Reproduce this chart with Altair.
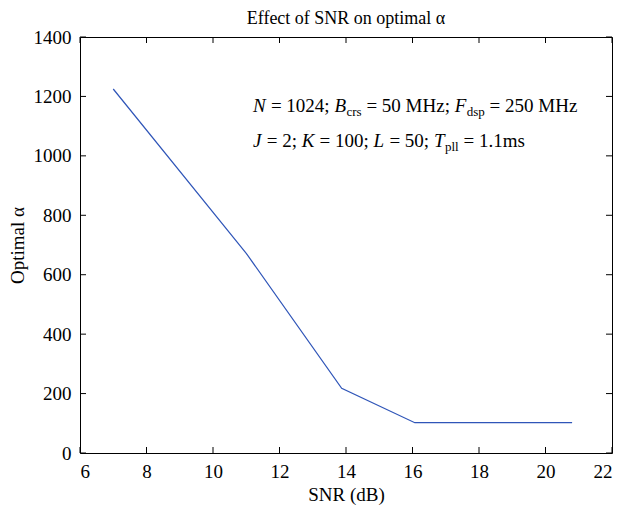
import altair as alt
import pandas as pd

# data
snr = [7.0, 11.0, 13.87, 16.07, 20.8]
alpha = [1225, 672, 218, 102, 102]
x_ticks = [6, 8, 10, 12, 14, 16, 18, 20, 22]
y_ticks = [0, 200, 400, 600, 800, 1000, 1200, 1400]

W, H = 532, 416
FONT = "Liberation Serif"
BLUE = "#2f55b8"

df = pd.DataFrame({"snr": snr, "alpha": alpha})
xt = pd.DataFrame({"v": x_ticks})
yt = pd.DataFrame({"v": y_ticks})

xscale = alt.Scale(domain=[6, 22], nice=False, zero=False)
yscale = alt.Scale(domain=[0, 1400], nice=False)

line = alt.Chart(df).mark_line(color=BLUE, strokeWidth=1.2).encode(
    x=alt.X("snr:Q", scale=xscale,
            axis=alt.Axis(values=x_ticks, format="d", title="SNR (dB)", ticks=False, domain=False,
                          grid=False, labelPadding=9, titlePadding=4,
                          labelFontSize=19, titleFontSize=19, labelFont=FONT, titleFont=FONT,
                          labelColor="black", titleColor="black", titleFontWeight="normal")),
    y=alt.Y("alpha:Q", scale=yscale,
            axis=alt.Axis(values=y_ticks, format="d", title="Optimal α", ticks=False, domain=False,
                          grid=False, labelPadding=9, titlePadding=6,
                          labelFontSize=19, titleFontSize=19, labelFont=FONT, titleFont=FONT,
                          labelColor="black", titleColor="black", titleFontWeight="normal")),
)

TL = 6
bottom_ticks = alt.Chart(xt).mark_rule(color="black", strokeWidth=1).encode(
    x=alt.X("v:Q", scale=xscale), y=alt.value(H), y2=alt.value(H - TL))
top_ticks = alt.Chart(xt).mark_rule(color="black", strokeWidth=1).encode(
    x=alt.X("v:Q", scale=xscale), y=alt.value(0), y2=alt.value(TL))
left_ticks = alt.Chart(yt).mark_rule(color="black", strokeWidth=1).encode(
    y=alt.Y("v:Q", scale=yscale), x=alt.value(0), x2=alt.value(TL))
right_ticks = alt.Chart(yt).mark_rule(color="black", strokeWidth=1).encode(
    y=alt.Y("v:Q", scale=yscale), x=alt.value(W), x2=alt.value(W - TL))

# annotation text runs: (text, kind) kind: v=italic variable, s=subscript, t=roman text
line1 = [("N", "v"), (" = 1024; ", "t"), ("B", "v"), ("crs", "s"), (" = 50 MHz; ", "t"),
         ("F", "v"), ("dsp", "s"), (" = 250 MHz", "t")]
line2 = [("J", "v"), (" = 2; ", "t"), ("K", "v"), (" = 100; ", "t"), ("L", "v"),
         (" = 50; ", "t"), ("T", "v"), ("pll", "s"), (" = 1.1ms", "t")]

ROMAN = {" ": 250, "=": 564, ";": 278, ".": 250, "M": 889, "H": 722, "z": 444, "c": 444,
         "r": 333, "s": 389, "d": 500, "p": 500, "l": 278, "m": 778}
ITAL = {"N": 667, "B": 611, "F": 611, "J": 444, "K": 667, "L": 556, "T": 556}
MAIN, SUB = 19, 13


def width(text, kind):
    size = SUB if kind == "s" else MAIN
    tab = ITAL if kind == "v" else ROMAN
    return sum(tab.get(ch, 500) for ch in text) * size / 1000.0


layers = [line, bottom_ticks, top_ticks, left_ticks, right_ticks]
for runs, base in ((line1, 75), (line2, 110)):
    x = 173.0
    for text, kind in runs:
        size = SUB if kind == "s" else MAIN
        lead = len(text) - len(text.lstrip(" "))
        shown = text.strip(" ")
        layers.append(
            alt.Chart(pd.DataFrame({"t": [shown]})).mark_text(
                align="left", baseline="alphabetic", font=FONT, fontSize=size,
                fontStyle="italic" if kind == "v" else "normal", color="black"
            ).encode(text="t:N", x=alt.value(round(x + width(" " * lead, kind), 1)),
                     y=alt.value(base + (4 if kind == "s" else 0)))
        )
        x += width(text, kind) + (0.5 if kind == "v" else 0)

chart = alt.layer(*layers).properties(
    width=W, height=H,
    title=alt.TitleParams("Effect of SNR on optimal α", font=FONT, fontSize=18,
                          fontWeight="normal", color="black", offset=0, anchor="middle"),
    autosize=alt.AutoSizeParams(type="none"),
    padding={"left": 72, "top": 29, "right": 2, "bottom": 53},
).configure_view(stroke="black", strokeWidth=1)

chart.save("out.html", embed_options={"renderer": "svg", "actions": False})
